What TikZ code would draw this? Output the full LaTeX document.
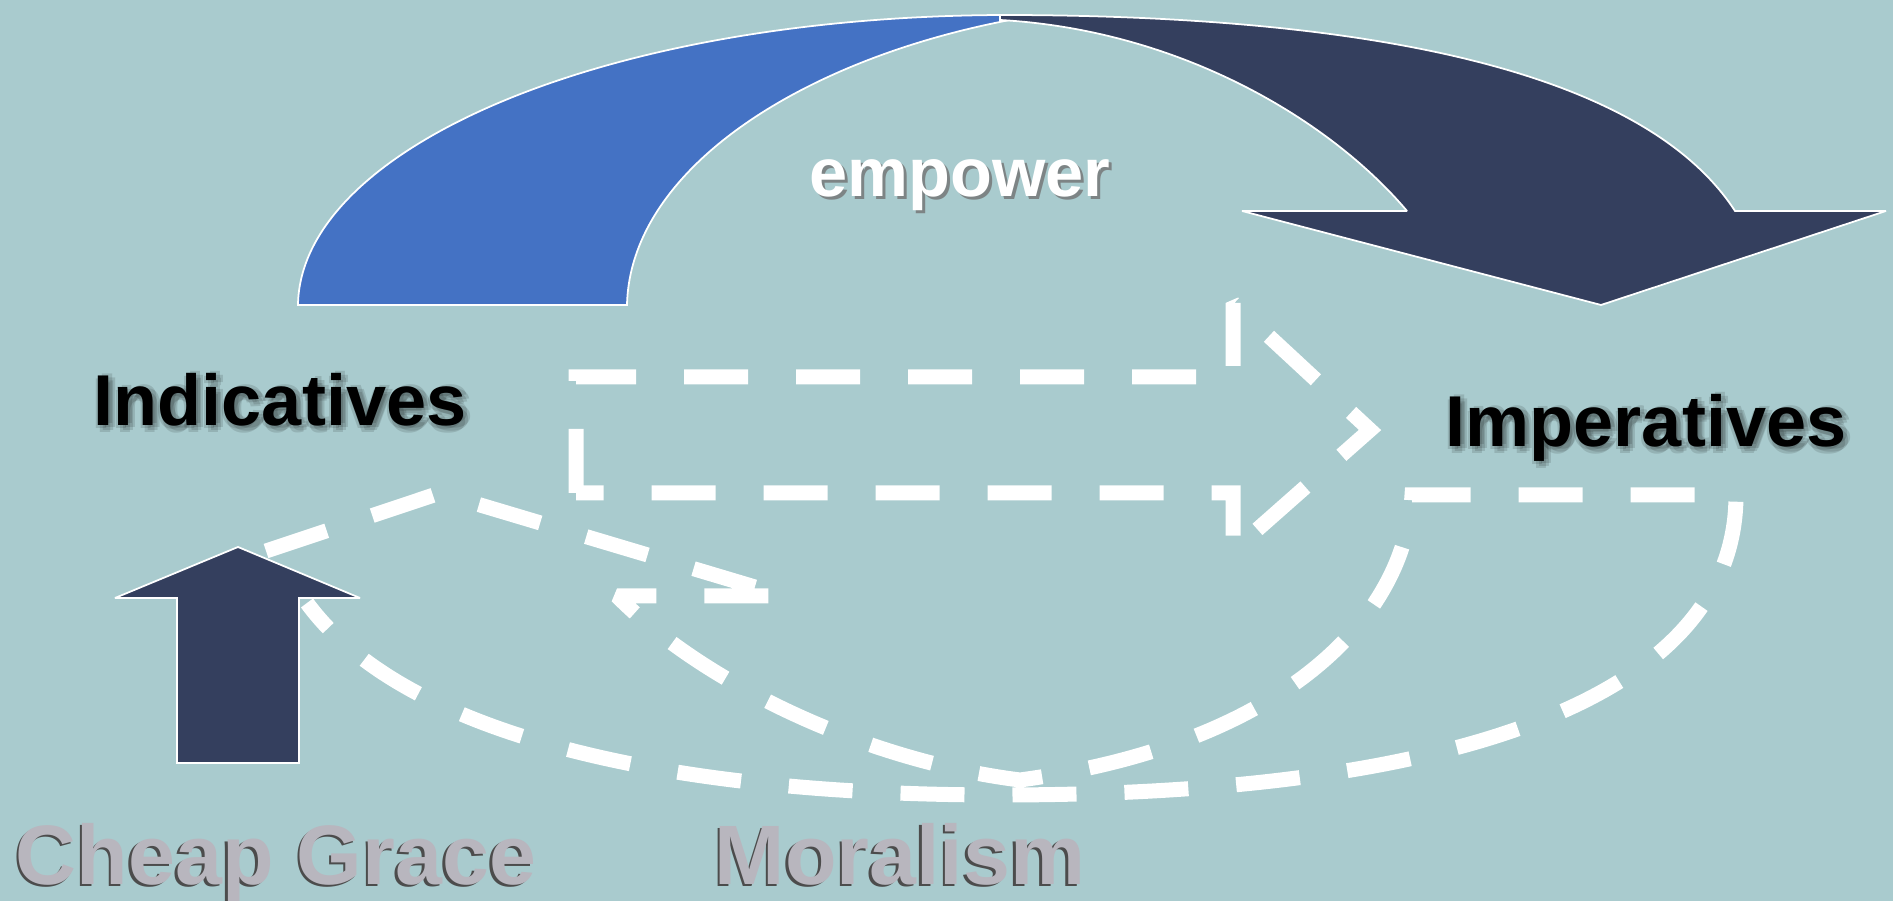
\documentclass[tikz,border=0pt]{standalone}
\usepackage{fontspec}
\setmainfont{Liberation Sans}
\definecolor{bgteal}{RGB}{169,203,206}
\definecolor{midblue}{RGB}{68,114,196}
\definecolor{navy}{RGB}{52,63,94}
\definecolor{engrave}{RGB}{184,182,190}
\begin{document}
\begin{tikzpicture}[miter limit=2,
	dashline/.style={white,line width=1.5mm,dash pattern=on 6.4mm off 4.8mm},
	block/.style={draw=white,line width=0.5pt},
	word/.style={inner sep=0pt,anchor=base,font=\bfseries\fontsize{20.5}{24}\selectfont},
	small/.style={inner sep=0pt,anchor=base,font=\bfseries\fontsize{19.5}{23}\selectfont},
	bigword/.style={inner sep=0pt,anchor=base,font=\bfseries\fontsize{24}{28}\selectfont}]
	\useasboundingbox (0,0) rectangle (18.93,9.01);
	\fill[bgteal] (0,0) rectangle (18.93,9.01);
	% big curved arrow over the top
	\filldraw[block,fill=midblue] (2.98,5.96) .. controls (3.00,7.51) and (6.00,8.86) .. (10.10,8.86)
		-- (10.10,8.81) .. controls (8.00,8.41) and (6.30,7.31) .. (6.27,5.96) -- cycle;
	\filldraw[block,fill=navy] (10.00,8.86) .. controls (14.00,8.86) and (16.50,8.21) .. (17.35,6.90)
		-- (18.86,6.90) -- (16.01,5.96) -- (12.42,6.90) -- (14.07,6.90)
		.. controls (13.30,7.81) and (11.80,8.71) .. (10.00,8.81) -- cycle;
	% dashed outlines
	\draw[dashline] (5.76,4.08) -- (5.76,5.24) -- (12.33,5.24) -- (12.33,5.98) -- (13.70,4.71)
		-- (12.33,3.50) -- (12.33,4.08) -- cycle;
	\draw[dashline] (2.66,3.50) -- (4.40,4.08) -- (7.85,3.05) -- (6.17,3.05)
		.. controls (7.00,2.21) and (8.60,1.41) .. (10.20,1.21)
		.. controls (12.80,1.56) and (14.05,2.81) .. (14.12,4.06) -- (17.36,4.06)
		.. controls (17.36,2.01) and (14.50,1.06) .. (10.00,1.06)
		.. controls (6.50,1.06) and (4.00,1.71) .. (3.07,2.98);
	% up arrow
	\filldraw[block,fill=navy] (2.38,3.54) -- (3.60,3.03) -- (2.99,3.03) -- (2.99,1.38)
		-- (1.77,1.38) -- (1.77,3.03) -- (1.15,3.03) -- cycle;
	% soft halo behind the black words
	\foreach \dx/\dy [count=\i] in {0.05/-0.05,0.07/-0.02,0.02/-0.07,0.04/0.02,-0.02/-0.03} {
		\node[word,opacity=0.12] (indic-g\i) at (2.80+\dx,4.75+\dy) {Indicatives};
		\node[word,opacity=0.12] (imper-g\i) at (16.46+\dx,4.54+\dy) {Imperatives};
	}
	\node[word] (indic) at (2.80,4.75) {Indicatives};
	\node[word] (imper) at (16.46,4.54) {Imperatives};
	\node[small,text=black!55,opacity=0.8] (empower-s) at (9.63,7.01) {empower};
	\node[small,text=white] (empower) at (9.60,7.04) {empower};
	\node[bigword,text=black!70] (cheap-s) at (2.735,0.145) {Cheap Grace};
	\node[bigword,text=engrave] (cheap) at (2.76,0.16) {Cheap Grace};
	\node[bigword,text=black!70] (moral-s) at (8.975,0.145) {Moralism};
	\node[bigword,text=engrave] (moral) at (9.00,0.16) {Moralism};
\end{tikzpicture}
\end{document}
